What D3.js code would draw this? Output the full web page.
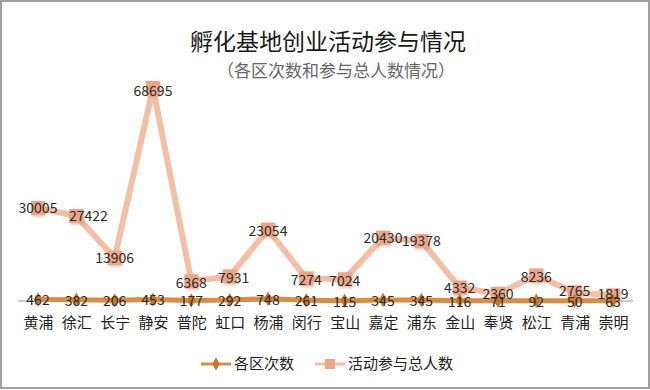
<!DOCTYPE html>
<html><head><meta charset="utf-8">
<script src="https://cdn.jsdelivr.net/npm/d3@7/dist/d3.min.js"></script>
<style>body{margin:0;background:#fff}svg{display:block}</style>
</head><body>
<svg id="c" width="650" height="390"></svg>
<script>
const categories = ["黄浦","徐汇","长宁","静安","普陀","虹口","杨浦","闵行","宝山","嘉定","浦东","金山","奉贤","松江","青浦","崇明"];
const countValues = [462,382,206,453,177,292,748,261,115,345,345,116,71,92,50,63];
const peopleValues = [30005,27422,13906,68695,6368,7931,23054,7274,7024,20430,19378,4332,2360,8236,2765,1819];
const seriesNames = ["各区次数","活动参与总人数"];
const titleText = "孵化基地创业活动参与情况";
const subtitleText = "（各区次数和参与总人数情况）";

const svg = d3.select("#c");
const font = "'Noto Sans CJK SC', 'Noto Sans', sans-serif";
const defs = svg.append("defs");
const f = defs.append("filter").attr("id","sh").attr("x","-50%").attr("y","-50%").attr("width","200%").attr("height","200%");
f.append("feDropShadow").attr("dx",1).attr("dy",1.5).attr("stdDeviation",1.5).attr("flood-color","#b07050").attr("flood-opacity",0.45);

// frame
svg.append("rect").attr("x",1).attr("y",1).attr("width",648).attr("height",387)
  .attr("fill","#fff").attr("stroke","#a0a0a0").attr("stroke-width",2);

svg.append("text").attr("x",328).attr("y",50).attr("text-anchor","middle")
  .attr("font-family",font).attr("font-size",23).attr("fill","#1a1a1a").text(titleText);
svg.append("text").attr("x",336).attr("y",77).attr("text-anchor","middle")
  .attr("font-family",font).attr("font-size",17).attr("fill","#666").text(subtitleText);

const x = d3.scalePoint().domain(categories).range([38,613]);
const y = d3.scaleLinear().domain([0,70000]).range([301,84]);

// axis
const ax = svg.append("g").attr("transform","translate(0,301)")
  .call(d3.axisBottom(x).tickSize(0).tickPadding(16));
ax.select(".domain").attr("d","M18,0H633").attr("stroke","#999").attr("stroke-width",1);
ax.selectAll("text").attr("font-family",font).attr("font-size",15).attr("fill","#222");

const line = d3.line().x((d,i)=>x(categories[i])).y(d=>y(d));

// people series
svg.append("path").datum(peopleValues).attr("d",line).attr("fill","none")
  .attr("stroke","#f3bfa5").attr("stroke-width",6).attr("stroke-linejoin","round");
svg.append("g").selectAll("rect").data(peopleValues).join("rect")
  .attr("x",(d,i)=>x(categories[i])-7).attr("y",d=>y(d)-7).attr("width",14).attr("height",14)
  .attr("fill","#eba68a").attr("filter","url(#sh)");

// count series
svg.append("path").datum(countValues).attr("d",line).attr("fill","none")
  .attr("stroke","#d48e48").attr("stroke-width",5).attr("stroke-linejoin","round");
svg.append("g").selectAll("path").data(countValues).join("path")
  .attr("d",d3.symbol(d3.symbolDiamond,60))
  .attr("transform",(d,i)=>`translate(${x(categories[i])},${y(d)})`)
  .attr("fill","#c9762c");

// labels
const pOff = [[0,0],[12,0],[0,0],[0,3],[0,2],[4,2],[0,2],[0,2],[0,2],[0,0],[0,0],[0,1],[0,0],[0,2],[0,-1],[0,-1]];
svg.append("g").selectAll("text").data(peopleValues).join("text")
  .attr("x",(d,i)=>x(categories[i])+pOff[i][0]).attr("y",(d,i)=>y(d)+pOff[i][1]).attr("dy","0.35em")
  .attr("text-anchor","middle").attr("font-family",font).attr("font-size",14).attr("fill","#2a2a2a")
  .text(d=>d);
svg.append("g").selectAll("text").data(countValues).join("text")
  .attr("x",(d,i)=>x(categories[i])).attr("y",d=>y(d)+1).attr("dy","0.35em")
  .attr("text-anchor","middle").attr("font-family",font).attr("font-size",14).attr("fill","#2a2a2a")
  .text(d=>d);

// legend
const lg = svg.append("g").attr("font-family",font).attr("font-size",15).attr("fill","#222");
lg.append("line").attr("x1",201).attr("x2",231).attr("y1",364).attr("y2",364).attr("stroke","#d48e48").attr("stroke-width",3);
lg.append("path").attr("d",d3.symbol(d3.symbolDiamond,50)).attr("transform","translate(216,364)").attr("fill","#c9762c");
lg.append("text").attr("x",234).attr("y",364).attr("dy","0.35em").text(seriesNames[0]);
lg.append("line").attr("x1",315).attr("x2",345).attr("y1",364).attr("y2",364).attr("stroke","#f3bfa5").attr("stroke-width",3);
lg.append("rect").attr("x",325).attr("y",359).attr("width",10).attr("height",10).attr("fill","#eba68a");
lg.append("text").attr("x",348).attr("y",364).attr("dy","0.35em").text(seriesNames[1]);
</script>
</body></html>
